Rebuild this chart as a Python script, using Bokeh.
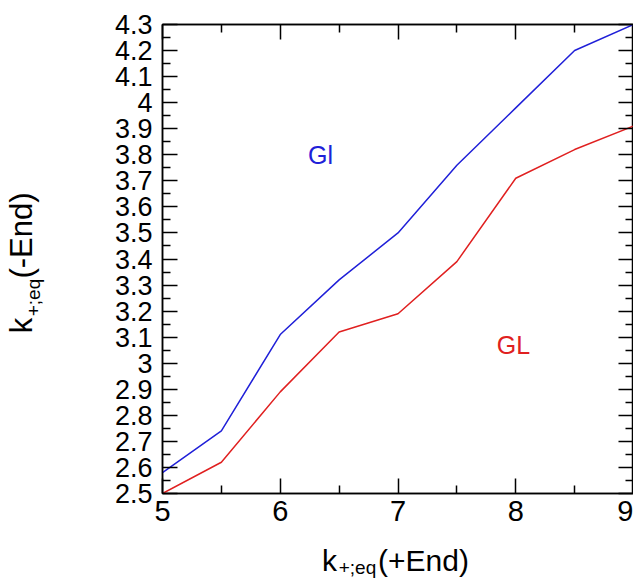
from bokeh.plotting import figure
from bokeh.models import Range1d, FixedTicker, LinearAxis
from bokeh.models import Label
from bokeh.embed import file_html
from bokeh.resources import INLINE

# ---- data ----
x_vals = [5, 5.5, 6, 6.5, 7, 7.5, 8, 8.5, 9]
gl_upper = [2.58, 2.74, 3.11, 3.32, 3.50, 3.76, 3.98, 4.20, 4.30]   # "Gl" (blue)
gl_lower = [2.50, 2.62, 2.89, 3.12, 3.19, 3.39, 3.71, 3.82, 3.91]   # "GL" (red)

x_ticks = [5, 6, 7, 8, 9]
x_minor = [5.5, 6.5, 7.5, 8.5]
y_ticks = [2.5, 2.6, 2.7, 2.8, 2.9, 3.0, 3.1, 3.2, 3.3, 3.4, 3.5, 3.6, 3.7, 3.8, 3.9, 4.0, 4.1, 4.2, 4.3]
y_tick_labels = ["2.5", "2.6", "2.7", "2.8", "2.9", "3", "3.1", "3.2", "3.3", "3.4", "3.5",
                 "3.6", "3.7", "3.8", "3.9", "4", "4.1", "4.2", "4.3"]

XMIN, XMAX, YMIN, YMAX = 5, 9, 2.5, 4.3
FW, FH = 471, 469
LEFT, TOP = 162, 24

BLUE = "#2020d8"
RED = "#e02020"
FONT = "Liberation Sans"

p = figure(frame_width=FW, frame_height=FH, output_backend="svg", toolbar_location=None,
           x_range=Range1d(XMIN, XMAX), y_range=Range1d(YMIN, YMAX),
           min_border_left=LEFT, min_border_top=TOP, min_border_bottom=20, min_border_right=0)
p.grid.visible = False
p.outline_line_color = "black"
p.outline_line_width = 1.5
p.background_fill_color = "white"
p.border_fill_color = "white"


def style_axis(ax, ticks, minor, labels=None, fs="28px", standoff=10):
    ax.ticker = FixedTicker(ticks=ticks, minor_ticks=minor)
    ax.major_tick_in = 15
    ax.major_tick_out = 0
    ax.minor_tick_in = 8
    ax.minor_tick_out = 0
    ax.major_tick_line_color = "black"
    ax.minor_tick_line_color = "black"
    ax.major_tick_line_width = 1.5
    ax.minor_tick_line_width = 1.5
    ax.axis_line_color = "black"
    ax.axis_line_width = 1.5
    ax.major_label_standoff = standoff
    ax.major_label_text_font = FONT
    ax.major_label_text_color = "black"
    ax.major_label_text_font_size = fs
    if labels is not None:
        ax.major_label_overrides = labels
    ax.axis_label = None


y_minor = [round(v + 0.05, 2) for v in y_ticks[:-1]]
y_over = {v: s for v, s in zip(y_ticks, y_tick_labels)}

style_axis(p.xaxis[0], x_ticks, x_minor, fs="29px", standoff=7)
style_axis(p.yaxis[0], y_ticks, y_minor, labels=y_over, fs="27px", standoff=10)

# mirrored tick axes (top / right) without labels
top_ax = LinearAxis()
style_axis(top_ax, x_ticks, x_minor, labels={v: "" for v in x_ticks}, fs="1px", standoff=0)
p.add_layout(top_ax, "above")
right_ax = LinearAxis()
style_axis(right_ax, y_ticks, y_minor, labels={v: "" for v in y_ticks}, fs="1px", standoff=0)
p.add_layout(right_ax, "right")

# data lines
p.line(x_vals, gl_upper, line_color=BLUE, line_width=1.5)
p.line(x_vals, gl_lower, line_color=RED, line_width=1.5)


# helper: canvas pixel -> data coordinates (for text placement)
def dx(px):
    return XMIN + (px - LEFT) / FW * (XMAX - XMIN)


def dy(py):
    return YMAX - (py - TOP) / FH * (YMAX - YMIN)


# series labels
p.add_layout(Label(x=dx(320), y=dy(154), text="Gl", text_font=FONT, text_font_size="25px",
                   text_color=BLUE, text_align="center", text_baseline="middle"))
p.add_layout(Label(x=dx(513), y=dy(344), text="GL", text_font=FONT, text_font_size="25px",
                   text_color=RED, text_align="center", text_baseline="middle"))


# axis titles with subscripts, built as label-only axes
def title_axis(side, positions, texts, fs, standoff, vertical=False):
    ax = LinearAxis()
    ax.ticker = FixedTicker(ticks=positions, minor_ticks=[])
    ax.major_label_overrides = {v: t for v, t in zip(positions, texts)}
    ax.major_tick_line_color = None
    ax.minor_tick_line_color = None
    ax.major_tick_in = 0
    ax.major_tick_out = 0
    ax.minor_tick_in = 0
    ax.minor_tick_out = 0
    ax.axis_line_color = None
    ax.major_label_text_font = FONT
    ax.major_label_text_font_size = fs
    ax.major_label_text_color = "black"
    ax.major_label_standoff = standoff
    if vertical:
        ax.major_label_orientation = "vertical"
    p.add_layout(ax, side)
    return ax


# x title: k_{+;eq}(+End)
title_axis("below", [dx(329), dx(423)], ["k", "(+End)"], "30px", 20)
title_axis("below", [dx(357)], ["+;eq"], "19px", -23)

# y title: k_{+;eq}(-End)  (reads bottom to top)
title_axis("left", [dy(297)], ["+;eq"], "19px", 68, vertical=True)
title_axis("left", [dy(325), dy(235)], ["k", "(-End)"], "31px", -19, vertical=True)

open("out.html", "w").write(file_html(p, INLINE))
